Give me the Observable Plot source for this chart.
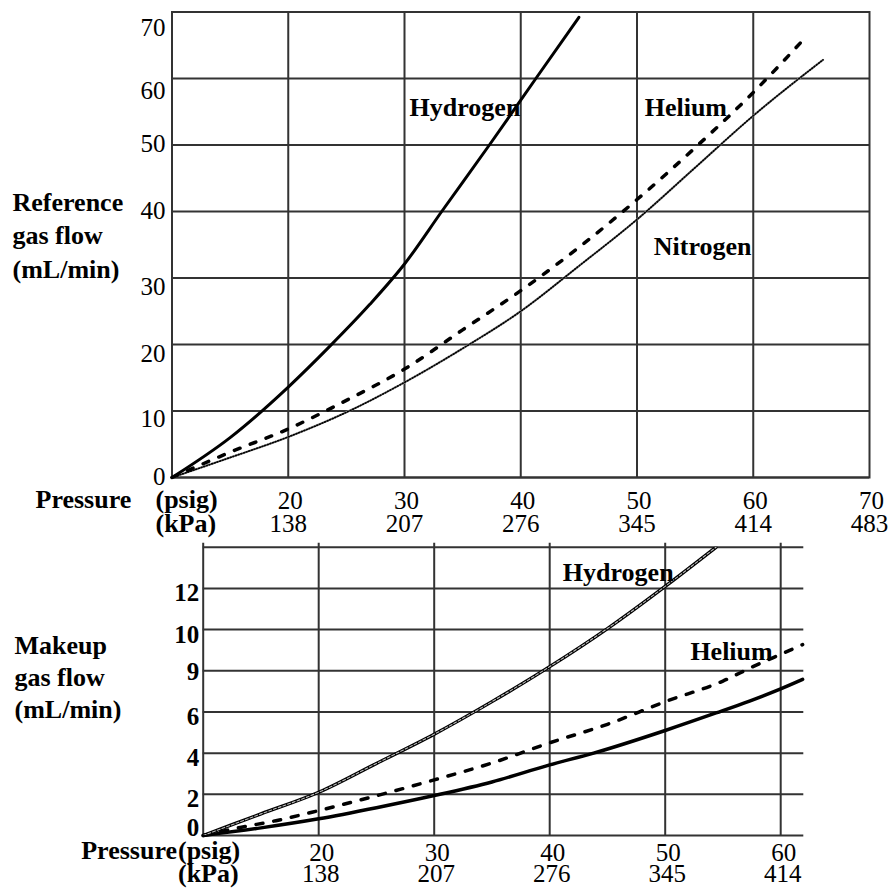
<!DOCTYPE html>
<html>
<head>
<meta charset="utf-8">
<script src="https://cdn.jsdelivr.net/npm/d3@7"></script>
<script src="https://cdn.jsdelivr.net/npm/@observablehq/plot@0.6"></script>
<style>
html, body { margin: 0; padding: 0; background: #fff; }
#chart { position: relative; width: 894px; height: 888px; overflow: hidden; }
#chart svg { position: absolute; left: 0; display: block; }
</style>
</head>
<body>
<div id="chart"></div>
<script>
// ---------------- Top panel: Reference gas flow ----------------
const refHydrogenPsig = [10, 15, 20, 23.5, 27, 30, 33.2, 37.3, 41.3, 45];
const refHydrogenFlow = [0, 6, 13.6, 19.6, 26.0, 32.1, 40, 50, 60, 69.2];
const refHeliumPsig   = [10, 15, 20, 25, 30, 35, 40, 45, 50, 55, 60, 64.4];
const refHeliumFlow   = [0, 3.8, 7.3, 11.6, 16.3, 22.2, 28.1, 34.6, 41.8, 49.6, 57.9, 66.0];
const refNitrogenPsig = [10, 15, 20, 25, 30, 35, 40, 45, 50, 55, 60, 66];
const refNitrogenFlow = [0, 3.0, 6.1, 9.8, 14.3, 19.4, 25.0, 31.8, 38.8, 46.6, 54.4, 62.8];

const refPsigTicks  = [20, 30, 40, 50, 60, 70];
const refKpaLabels  = ["138", "207", "276", "345", "414", "483"];
const refFlowTicks  = [0, 10, 20, 30, 40, 50, 60, 70];
const refCurveNames = ["Hydrogen", "Helium", "Nitrogen"];
const refNamePsig   = [30.44, 50.66, 51.44];
const refNameFlow   = [54.4, 54.4, 33.5];

// ---------------- Bottom panel: Makeup gas flow ----------------
const mkHydrogenPsig = [10, 15, 20, 25, 30, 35, 40, 45, 50, 54.4];
const mkHydrogenFlow = [0, 1.05, 2.1, 3.5, 4.92, 6.5, 8.2, 10.05, 12.1, 14.0];
const mkHeliumPsig   = [10, 13.2, 16.3, 20, 25.2, 30, 35, 40, 45, 50, 55, 57.6, 60.3, 61.9];
const mkHeliumFlow   = [0, 0.39, 0.72, 1.21, 1.96, 2.7, 3.52, 4.5, 5.4, 6.5, 7.5, 8.2, 8.87, 9.27];
const mkSolidPsig    = [10, 15, 20, 25, 30, 35, 40, 43.8, 50, 54.4, 57.3, 60, 61.9];
const mkSolidFlow    = [0, 0.37, 0.81, 1.35, 1.94, 2.6, 3.43, 4.0, 5.1, 5.95, 6.53, 7.12, 7.58];

const mkPsigTicks  = [20, 30, 40, 50, 60];
const mkKpaLabels  = ["138", "207", "276", "345", "414"];
const mkFlowTicks  = [0, 2, 4, 6, 8, 10, 12];
const mkFlowLabels = ["0", "2", "4", "6", "9", "10", "12"];
const mkCurveNames = ["Hydrogen", "Helium"];
const mkNamePsig   = [41.14, 52.18];
const mkNameFlow   = [12.34, 8.51];

// ---------------- helpers ----------------
const rows = (xs, ys) => xs.map((x, i) => ({psig: x, flow: ys[i]}));
const labelRows = (names, xs, ys) => names.map((n, i) => ({name: n, psig: xs[i], flow: ys[i]}));
const FONT = "'Liberation Serif', 'Times New Roman', serif";
const GRID = "#333";
const svgStyle = {fontFamily: FONT, fontSize: "25px", background: "transparent", color: "#000", overflow: "visible"};

// per-label vertical nudges (px) as seen in the reference
const refYNudge = {0: -1, 10: 8, 20: 9, 30: 9, 40: -1, 50: -1, 60: 12, 70: 16};
const mkYNudge  = {0: -7.5, 2: 5, 4: 5, 6: 5, 8: 1.5, 10: 5, 12: 5};

function groupedAxisY(ticks, nudge, opts) {
  const groups = d3.group(ticks, t => nudge[t]);
  return Array.from(groups, ([dy, ts]) => Plot.axisY(ts, {label: null, tickSize: 0, dy, ...opts}));
}

const line = (data, o) => Plot.line(data, {x: "psig", y: "flow", curve: "monotone-x", ...o});

// ---------------- Top plot ----------------
const refH = rows(refHydrogenPsig, refHydrogenFlow);
const refHe = rows(refHeliumPsig, refHeliumFlow);
const refN = rows(refNitrogenPsig, refNitrogenFlow);

const topPlot = Plot.plot({
  width: 894, height: 540,
  marginLeft: 171.5, marginRight: 25, marginTop: 11.5, marginBottom: 63,
  x: {domain: [10, 70]},
  y: {domain: [0, 70]},
  style: svgStyle,
  marks: [
    Plot.gridX(refPsigTicks.slice(0, -1), {stroke: GRID, strokeOpacity: 1, strokeWidth: 2}),
    Plot.gridY(refFlowTicks, {stroke: GRID, strokeOpacity: 1, strokeWidth: 2}),
    Plot.frame({stroke: GRID, strokeWidth: 2}),
    line(refN, {stroke: "#a8a8a8", strokeWidth: 2.2}),
    line(refN, {stroke: "#000", strokeWidth: 1.7, strokeDasharray: "1,1.8"}),
    line(refHe, {stroke: "#000", strokeWidth: 3.5, strokeDasharray: "6,11"}),
    line(refH, {stroke: "#000", strokeWidth: 3}),
    Plot.text(labelRows(refCurveNames, refNamePsig, refNameFlow), {
      x: "psig", y: "flow", text: "name", textAnchor: "start", lineAnchor: "bottom",
      fontWeight: "bold", fontSize: 26, fill: "#000"
    }),
    ...groupedAxisY(refFlowTicks, refYNudge, {tickPadding: 6.5, fontSize: 25}),
    Plot.axisX(refPsigTicks, {label: null, tickSize: 0, tickPadding: 13.25, dx: 2, fontSize: 25}),
    Plot.axisX(refPsigTicks, {label: null, tickSize: 0, tickPadding: 36.75, fontSize: 25,
      tickFormat: d => refKpaLabels[refPsigTicks.indexOf(d)]}),
    Plot.text(["Reference\ngas flow\n(mL/min)"], {
      frameAnchor: "top-left", textAnchor: "start", lineAnchor: "bottom",
      dx: -159.5, dy: 265.5, lineHeight: 1.27, fontWeight: "bold", fontSize: 26
    }),
    Plot.text(["Pressure"], {
      frameAnchor: "bottom-left", textAnchor: "start", lineAnchor: "bottom",
      dx: -136.5, dy: 30, fontWeight: "bold", fontSize: 26
    }),
    Plot.text(["(psig)\n(kPa)"], {
      frameAnchor: "bottom-left", textAnchor: "start", lineAnchor: "bottom",
      dx: -16.5, dy: 54, lineHeight: 0.92, fontWeight: "bold", fontSize: 26
    })
  ]
});
topPlot.style.top = "0px";

// ---------------- Bottom plot ----------------
const mkH = rows(mkHydrogenPsig, mkHydrogenFlow);
const mkHe = rows(mkHeliumPsig, mkHeliumFlow);
const mkS = rows(mkSolidPsig, mkSolidFlow);

const bottomPlot = Plot.plot({
  width: 894, height: 348,
  marginLeft: 202.7, marginRight: 90.7, marginTop: 6.7, marginBottom: 53,
  x: {domain: [10, 62]},
  y: {domain: [0, 14]},
  style: svgStyle,
  marks: [
    Plot.ruleX([10, ...mkPsigTicks], {stroke: GRID, strokeWidth: 2, insetTop: -4}),
    Plot.gridY([...mkFlowTicks, 14], {stroke: GRID, strokeOpacity: 1, strokeWidth: 2}),
    line(mkS, {stroke: "#000", strokeWidth: 3.5}),
    line(mkHe, {stroke: "#000", strokeWidth: 3.5, strokeDasharray: "7,11"}),
    line(mkH, {stroke: "#000", strokeWidth: 3.4, clip: true}),
    line(mkH, {stroke: "#bdbdbd", strokeWidth: 1.1, strokeDasharray: "3,2", clip: true}),
    Plot.text(labelRows(mkCurveNames, mkNamePsig, mkNameFlow), {
      x: "psig", y: "flow", text: "name", textAnchor: "start", lineAnchor: "bottom",
      fontWeight: "bold", fontSize: 26, fill: "#000"
    }),
    ...groupedAxisY(mkFlowTicks, mkYNudge, {tickPadding: 4, fontSize: 25, fontWeight: "bold",
      tickFormat: d => mkFlowLabels[mkFlowTicks.indexOf(d)]}),
    Plot.axisX(mkPsigTicks, {label: null, tickSize: 0, tickPadding: 7.75, dx: 3, fontSize: 25}),
    Plot.axisX(mkPsigTicks, {label: null, tickSize: 0, tickPadding: 28.75, dx: 2, fontSize: 25,
      tickFormat: d => mkKpaLabels[mkPsigTicks.indexOf(d)]}),
    Plot.text(["Makeup\ngas flow\n(mL/min)"], {
      frameAnchor: "top-left", textAnchor: "start", lineAnchor: "bottom",
      dx: -188.7, dy: 170.3, lineHeight: 1.23, fontWeight: "bold", fontSize: 26
    }),
    Plot.text(["Pressure"], {
      frameAnchor: "bottom-left", textAnchor: "start", lineAnchor: "bottom",
      dx: -122, dy: 23.3, fontWeight: "bold", fontSize: 26
    }),
    Plot.text(["(psig)\n(kPa)"], {
      frameAnchor: "bottom-left", textAnchor: "start", lineAnchor: "bottom",
      dx: -25.2, dy: 46.7, lineHeight: 0.9, fontWeight: "bold", fontSize: 26
    })
  ]
});
bottomPlot.style.top = "540px";

const chart = document.getElementById("chart");
chart.appendChild(topPlot);
chart.appendChild(bottomPlot);
</script>
</body>
</html>
